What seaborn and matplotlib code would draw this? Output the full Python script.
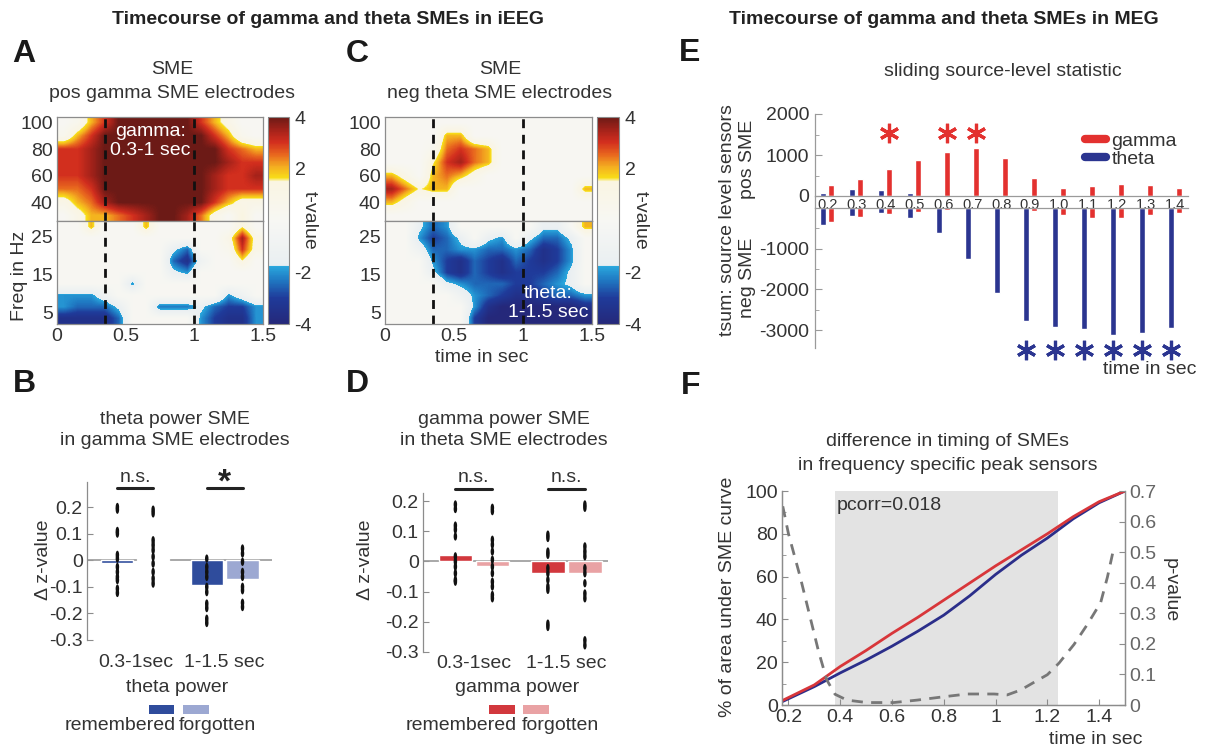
import numpy as np
import pandas as pd
import matplotlib
matplotlib.use("Agg")
import matplotlib.pyplot as plt
import matplotlib.transforms as mtransforms
import seaborn as sns
from matplotlib.colors import LinearSegmentedColormap
from matplotlib.patches import Rectangle
from matplotlib.lines import Line2D

# ---------------- data ----------------
# A / C: t-values, 0.1 s columns (0-1.5 s), rows from high to low frequency
# gamma rows: 10 Hz cells centred 100..30 Hz, low rows: 3 Hz cells centred 27.5..3.5 Hz
A_high = [
    [0, 0.5, 2, 3, 4, 4, 4, 4, 4, 4, 3, 2, 1, 0, 0],
    [0.5, 2, 3, 4, 4, 4, 4, 4, 4, 4, 4, 3, 2, 0.5, 0],
    [3, 3, 3.5, 4, 4, 4, 4, 4, 4, 4, 4, 4, 3, 2.5, 2],
    [3, 3, 3.5, 4, 4, 4, 4, 4, 4, 4, 4, 4, 3.5, 3, 3],
    [3, 3, 3.5, 4, 4, 4, 4, 4, 4, 4, 4, 3.5, 3, 3, 3.5],
    [2.5, 2.5, 3, 4, 4, 4, 4, 4, 4, 4, 4, 3.5, 3, 3, 3],
    [1, 2, 2.5, 3.5, 4, 4, 4, 4, 4, 4, 4, 3, 2, 1, 1],
    [0, 1, 2, 2, 2.5, 3, 3.5, 4, 4, 3.5, 2.5, 1, 0, 1.5, 0],
]
A_low = [
    [0, 0, 2, 0, 0, 0, 2, 0, 0, 0, 0, 0, 0, 1.5, 0],
    [0, 0, 0, 0, 0, 0, 0, 0, 0, 0, 0, 0, 1, 3.5, 1],
    [0, 0, 0, 0, 0, 0, 0, 0, -1.5, -2.5, 0, 0, 0.5, 3, 1],
    [0, 0, 0, 0, 0, 0, 0, 0, -2.5, -3.5, -1, 0, 0, 1.5, 0],
    [0, 0, 0, 0, 0, 0, 0, 0, -1.5, -2, 0, 0, 0, 0, 0],
    [0, 0, 0, 0, 0, -2, 0, 0, 0, 0, 0, 0, 0, 0, 0],
    [-2, -2, -2, -1, 0, 0, 0, 0, 0, 0, 0, 0, -2, -1, 0],
    [-2, -2.5, -2.5, -2.5, -1.5, 0, 0, -2.3, -2.3, -2.3, -1.5, -2.5, -3, -3, -2],
    [-3.5, -3.5, -3.5, -3.5, -2.5, 0, 0, 0, 0, 0, -2, -3, -3.5, -3.5, -2],
]
C_high = [
    [0, 0, 0, 0, 0, 0, 0, 0, 0, 0, 0, 0, 0, 0, 0],
    [0, 0, 0, 0, 2, 2, 0, 0, 0, 0, 0, 0, 0, 0, 0],
    [0, 0, 0, 0.5, 2.5, 3, 2.5, 2, 0, 0, 0, 0, 0, 0, 0],
    [0, 0, 0, 1.5, 3, 3.5, 2.5, 2, 0, 0, 0, 0, 0, 0, 0],
    [2, 1, 0, 2, 2.5, 2, 1, 0, 0, 0, 0, 0, 0, 0, 0],
    [3.5, 2.5, 1.5, 2, 2, 0, 0, 0, 0, 0, 0, 0, 0, 0, 2],
    [2, 1, 0, 0, 0, 0, 0, 0, 0, 0, 0, 0, 0, 0, 0],
    [0, 0, 0, 0, 0, 0, 0, 0, 0, 0, 0, 0, 0, 0, 0],
]
C_low = [
    [0, 0, -1.5, -2.5, -2, 0, 0, 0, 0, 0, 0, -1.5, -1.5, 0, 2],
    [0, 0, -2, -3, -2.5, -1.5, 0, -1.5, -2, 0, -1.5, -2.5, -2.5, -1.5, 0],
    [0, 0, -1, -2.5, -2.5, -2, -2, -2.5, -2.5, -2, -2.5, -3.5, -3, -2, 0],
    [0, 0, 0, -2, -3, -3.5, -2.5, -3, -3.5, -2.5, -3, -3.5, -3, -2, 0],
    [0, 0, 0, -1.5, -3, -3.5, -2.5, -3, -3.5, -3, -3, -3, -2.5, -1.5, 0],
    [0, 0, 0, 0, -1.5, -2, -2.5, -2.5, -2.5, -3, -3, -2.5, -2, -1.5, 0],
    [0, 0, 0, 0, 0, -1, -2, -2.5, -3, -3.5, -3.5, -3, -2.5, -2.5, -2],
    [0, 0, 0, 0, 0, 0, -2, -3.5, -4, -4, -4, -4, -4, -4, -3.5],
    [0, 0, 0, 0, 0, 0, -3, -4, -4, -4, -4, -4, -4, -4, -4],
]
time_span = (0, 1.5)
high_band = (25, 105)
low_band = (2, 29)
windows_marked = [0.35, 1.0]

# B / D
windows = ["0.3-1sec", "1-1.5 sec"]
conds = ["remembered", "forgotten"]
B_rem = [-0.01, -0.095]
B_forg = [0.003, -0.07]
B_dots = {
    ("0.3-1sec", "remembered"): [0.2, 0.19, 0.11, 0.1, 0.02, 0.006, -0.025, -0.044, -0.063, -0.075, -0.107, -0.123],
    ("0.3-1sec", "forgotten"): [0.19, 0.176, 0.075, 0.057, 0.038, 0.013, -0.013, -0.044, -0.069, -0.088],
    ("1-1.5 sec", "remembered"): [0.006, -0.025, -0.044, -0.063, -0.1, -0.12, -0.163, -0.18, -0.22, -0.236],
    ("1-1.5 sec", "forgotten"): [0.044, 0.025, -0.006, -0.044, -0.063, -0.1, -0.113, -0.16, -0.176],
}
D_rem = [0.02, -0.037]
D_forg = [-0.015, -0.037]
D_dots = {
    ("0.3-1sec", "remembered"): [0.189, 0.174, 0.119, 0.106, 0.083, 0.017, 0.0, -0.017, -0.039, -0.061, -0.067],
    ("0.3-1sec", "forgotten"): [0.178, 0.167, 0.072, 0.056, 0.033, 0.006, -0.017, -0.039, -0.067, -0.083, -0.111, -0.122],
    ("1-1.5 sec", "remembered"): [0.089, 0.078, 0.033, 0.022, -0.022, -0.039, -0.061, -0.083, -0.094, -0.206, -0.217],
    ("1-1.5 sec", "forgotten"): [0.189, 0.178, 0.05, 0.033, 0.017, -0.022, -0.039, -0.072, -0.106, -0.122, -0.261, -0.278],
}

# E
E_times = ["0.2", "0.3", "0.4", "0.5", "0.6", "0.7", "0.8", "0.9", "1.0", "1.1", "1.2", "1.3", "1.4"]
gamma_pos = [260, 405, 665, 890, 1085, 1175, 930, 437, 195, 235, 300, 260, 195]
gamma_neg = [-350, -210, -150, -100, -40, -25, -30, -80, -180, -250, -250, -165, -125]
theta_pos = [70, 170, 155, 65, 30, 15, 5, 0, 0, 0, 0, 0, 0]
theta_neg = [-415, -190, -135, -250, -625, -1265, -2085, -2765, -2935, -2985, -3125, -3060, -2960]
gamma_sig = ["0.4", "0.6", "0.7"]
theta_sig = ["0.9", "1.0", "1.1", "1.2", "1.3", "1.4"]

# F
F_time = [0.175, 0.3, 0.4, 0.5, 0.6, 0.7, 0.8, 0.9, 1.0, 1.1, 1.2, 1.3, 1.4, 1.5]
F_gamma = [2, 9.4, 18, 25.5, 33.5, 41, 49, 57, 65, 72.5, 80, 88, 95, 100]
F_theta = [1.5, 8.6, 15, 21, 27.5, 34.5, 42, 51, 61, 70, 78, 87, 94.5, 100]
p_time = [0.178, 0.2, 0.245, 0.284, 0.316, 0.348, 0.38, 0.426, 0.503, 0.606, 0.697, 0.8, 0.89,
          0.994, 1.045, 1.097, 1.148, 1.2, 1.245, 1.303, 1.355, 1.406, 1.432, 1.452]
p_value = [0.65, 0.56, 0.42, 0.286, 0.176, 0.082, 0.035, 0.016, 0.008, 0.008, 0.016, 0.027, 0.036,
           0.036, 0.033, 0.049, 0.074, 0.099, 0.137, 0.198, 0.264, 0.335, 0.418, 0.495]
sig_window = (0.378, 1.243)

# ---------------- style ----------------
sns.set_style("ticks")
plt.rcParams["font.family"] = ["Liberation Sans", "DejaVu Sans"]
plt.rcParams["axes.unicode_minus"] = False
plt.rcParams["text.color"] = "#333333"
plt.rcParams["axes.labelcolor"] = "#333333"
plt.rcParams["xtick.color"] = "#333333"
plt.rcParams["ytick.color"] = "#333333"
plt.rcParams["xtick.direction"] = "in"
plt.rcParams["ytick.direction"] = "in"

W, H = 1207, 749
FS = 14
GRAY = "#8c8c8c"
red_e, blue_e = "#e3312f", "#2b3590"

sme_cmap = LinearSegmentedColormap.from_list("sme", [
    (0.000, "#25287a"), (0.125, "#1f3b9a"), (0.210, "#1f78c2"), (0.280, "#2aa9de"),
    (0.2825, "#e9eff2"), (0.500, "#f7f7f3"), (0.690, "#faf5e2"), (0.705, "#f8df18"),
    (0.760, "#f4ae20"), (0.820, "#e8661e"), (0.880, "#d22e1e"), (0.940, "#a3221a"),
    (1.000, "#6c1a16"),
])

fig = plt.figure(figsize=(W / 100, H / 100), dpi=100)


def px(x0, y0, x1, y1):
    return [x0 / W, 1 - y1 / H, (x1 - x0) / W, (y1 - y0) / H]


def ftext(x, y, s, **kw):
    kw.setdefault("ha", "center")
    kw.setdefault("va", "center")
    kw.setdefault("fontsize", FS)
    return fig.text(x / W, 1 - y / H, s, **kw)


def style_axis(ax, color=GRAY):
    for sp in ax.spines.values():
        sp.set_color(color)
        sp.set_linewidth(0.9)


# ---------------- A / C heatmaps ----------------
def heat_panel(x0, x1, high, low, cbar):
    ax_hi = fig.add_axes(px(x0, 117, x1, 221))
    ax_lo = fig.add_axes(px(x0, 221, x1, 324))
    for ax, grid, band, lim, ticks in ((ax_hi, high, high_band, (26, 104), [40, 60, 80, 100]),
                                       (ax_lo, low, low_band, (2, 29), [5, 15, 25])):
        im = ax.imshow(np.array(grid), extent=(time_span[0], time_span[1], band[0], band[1]),
                       cmap=sme_cmap, vmin=-4, vmax=4, aspect="auto",
                       interpolation="bilinear", interpolation_stage="data")
        ax.set_xlim(*time_span)
        ax.set_ylim(*lim)
        ax.set_yticks(ticks)
        for t in windows_marked:
            ax.axvline(t, color="#111111", lw=2, ls=(0, (3.2, 2.4)))
        ax.tick_params(length=0, labelsize=FS, pad=3)
        style_axis(ax)
    ax_hi.set_xticks([])
    ax_lo.set_xticks([0, 0.5, 1, 1.5])
    ax_lo.set_xticklabels(["0", "0.5", "1", "1.5"])
    ax_lo.tick_params(axis="x", pad=3)

    cax = fig.add_axes(px(cbar[0], 117, cbar[1], 324))
    cb = fig.colorbar(im, cax=cax, ticks=[-4, -2, 2, 4])
    cb.outline.set_edgecolor(GRAY)
    cb.outline.set_linewidth(0.8)
    cax.tick_params(length=0, labelsize=FS, pad=4)
    cax.text(1.95, 0.5, "t-value", rotation=270, ha="center", va="center",
             fontsize=FS, transform=cax.transAxes)
    return ax_hi, ax_lo


axA_hi, axA_lo = heat_panel(57, 263, A_high, A_low, (268, 289))
axA_hi.text(0.68, 86, "gamma:\n0.3-1 sec", color="white", fontsize=FS, ha="center", va="center",
            linespacing=1.15)
ftext(20, 276, "Freq in Hz", rotation=90)

axC_hi, axC_lo = heat_panel(385, 592, C_high, C_low, (597, 619))
axC_lo.text(1.18, 7.5, "theta:\n1-1.5 sec", color="white", fontsize=FS, ha="center", va="center",
            linespacing=1.15)
ftext(482, 358, "time in sec")

ftext(172, 70, "SME")
ftext(172, 93, "pos gamma SME electrodes")
ftext(500, 70, "SME")
ftext(500, 93, "neg theta SME electrodes")


# ---------------- B / D bar plots ----------------
def sme_bars(rect, rem, forg, dots, colors, ylim, xlim, ticklab_pad, sig_labels, sig_y):
    ax = fig.add_axes(px(*rect))
    bars = pd.DataFrame({"window": windows * 2,
                         "cond": [conds[0]] * 2 + [conds[1]] * 2,
                         "value": rem + forg})
    sns.barplot(data=bars, x="window", y="value", hue="cond", order=windows, hue_order=conds,
                palette=colors, width=0.8, gap=0.1, saturation=1, errorbar=None,
                legend=False, ax=ax, zorder=2)
    pts = pd.DataFrame([(w, c, v) for (w, c), vals in dots.items() for v in vals],
                       columns=["window", "cond", "value"])
    th = np.linspace(0, 2 * np.pi, 40)
    ellipse = list(zip(0.42 * np.cos(th), np.sin(th)))
    sns.stripplot(data=pts, x="window", y="value", hue="cond", order=windows, hue_order=conds,
                  palette=["#111111", "#111111"], dodge=True, jitter=False, size=6,
                  marker=ellipse, linewidth=0, legend=False, ax=ax, zorder=3)
    ax.axhline(0, color="#9a9a9a", lw=1.2, zorder=1)
    ax.set_ylim(*ylim)
    ax.set_xlim(*xlim)
    ax.set_yticks([-0.3, -0.2, -0.1, 0, 0.1, 0.2])
    ax.set_yticklabels(["-0.3", "-0.2", "-0.1", "0", "0.1", "0.2"])
    ax.set_xlabel("")
    ax.set_ylabel("")
    ax.tick_params(axis="y", length=4, labelsize=FS, pad=3, color=GRAY)
    ax.tick_params(axis="x", length=0, labelsize=FS, pad=ticklab_pad)
    for s in ("top", "right", "bottom"):
        ax.spines[s].set_visible(False)
    style_axis(ax)
    ax.patch.set_alpha(0)
    tr = mtransforms.blended_transform_factory(ax.transData, fig.transFigure)
    for i, lab in enumerate(sig_labels):
        ax.plot([i - 0.2, i + 0.2], [1 - sig_y / H] * 2, color="#222222", lw=2.2,
                transform=tr, clip_on=False)
        if lab == "*":
            ax.text(i, 1 - (sig_y + 4) / H, "*", fontsize=24, fontweight="bold", ha="center",
                    va="baseline", transform=tr, color="#222222")
        else:
            ax.text(i, 1 - (sig_y - 11) / H, lab, fontsize=FS, ha="center", va="center",
                    transform=tr)
    return ax


blue_dark, blue_light = "#2f4c9c", "#9ca8d2"
red_dark, red_light = "#d2383d", "#e9a2a4"

axB = sme_bars((87, 482, 272, 640), B_rem, B_forg, B_dots, [blue_dark, blue_light],
               (-0.3, 0.294), (-0.54, 1.53), 10, ["n.s.", "*"], 488)
axD = sme_bars((423, 493, 608, 652), D_rem, D_forg, D_dots, [red_dark, red_light],
               (-0.3, 0.227), (-0.55, 1.45), 2, ["n.s.", "n.s."], 489)

ftext(43, 560, "Δ z-value", rotation=90)
ftext(365, 560, "Δ z-value", rotation=90)
ftext(175, 419, "theta power SME")
ftext(175, 441, "in gamma SME electrodes")
ftext(504, 419, "gamma power SME")
ftext(504, 441, "in theta SME electrodes")
ftext(177, 687, "theta power")
ftext(517, 688, "gamma power")
for (x0, x1), col in (((149, 174), blue_dark), ((183, 209), blue_light),
                      ((489, 515), red_dark), ((523, 549), red_light)):
    fig.add_artist(Rectangle((x0 / W, 1 - 714 / H), (x1 - x0) / W, 9 / H,
                             transform=fig.transFigure, color=col, lw=0))
ftext(120, 726, "remembered")
ftext(217, 726, "forgotten")
ftext(461, 726, "remembered")
ftext(560, 726, "forgotten")

# ---------------- E sliding statistic ----------------
axE_pos = fig.add_axes(px(815, 114, 1188, 196))
axE_neg = fig.add_axes(px(815, 208, 1188, 348))
hue_order = ["theta", "gamma"]
for ax, th_vals, ga_vals in ((axE_pos, theta_pos, gamma_pos), (axE_neg, theta_neg, gamma_neg)):
    df = pd.DataFrame({"time": E_times * 2,
                       "band": ["theta"] * len(E_times) + ["gamma"] * len(E_times),
                       "tsum": th_vals + ga_vals})
    sns.barplot(data=df, x="time", y="tsum", hue="band", hue_order=hue_order, order=E_times,
                palette=[blue_e, red_e], width=0.58, gap=0.3, saturation=1, errorbar=None,
                legend=False, ax=ax)
    ax.set_xlim(-0.42, 12.45)
    ax.set_xlabel("")
    ax.set_ylabel("")
    ax.patch.set_alpha(0)
    style_axis(ax, "#9a9a9a")
    ax.spines["right"].set_visible(False)
    ax.tick_params(axis="y", which="both", labelsize=FS, color="#9a9a9a", pad=4)
    ax.tick_params(axis="y", which="major", length=5)
    ax.tick_params(axis="y", which="minor", length=3)

axE_pos.set_ylim(0, 2000)
axE_pos.set_yticks([0, 1000, 2000])
axE_pos.set_yticks([500, 1500], minor=True)
axE_pos.spines["top"].set_visible(False)
axE_pos.tick_params(axis="x", length=0, labelsize=10.5, pad=1.5)

axE_neg.set_ylim(-3440, 0)
axE_neg.set_yticks([-3000, -2000, -1000])
axE_neg.set_yticks([-3000, -2500, -2000, -1500, -1000, -500], minor=True)
axE_neg.spines["bottom"].set_visible(False)
axE_neg.set_xticks([])
fig.add_artist(Line2D([815 / W] * 2, [1 - 208 / H, 1 - 196 / H], transform=fig.transFigure,
                      color="#9a9a9a", lw=0.9))

# significance asterisks, drawn as 6-armed markers above / below the bars
off = 0.145
star = dict(marker=(6, 2, 0), markersize=14, markeredgewidth=2.3, linestyle="none", clip_on=False)
tr_pos = mtransforms.blended_transform_factory(axE_pos.transData, fig.transFigure)
axE_pos.plot([E_times.index(t) + off for t in gamma_sig], [1 - 133 / H] * len(gamma_sig),
             color=red_e, transform=tr_pos, **star)
tr_neg = mtransforms.blended_transform_factory(axE_neg.transData, fig.transFigure)
axE_neg.plot([E_times.index(t) - off for t in theta_sig], [1 - 350 / H] * len(theta_sig),
             color=blue_e, transform=tr_neg, **star)

axE_pos.legend(handles=[Line2D([0], [0], color=red_e, lw=6), Line2D([0], [0], color=blue_e, lw=6)],
               labels=["gamma", "theta"], loc="upper left", bbox_to_anchor=(1085 / W, 1 - 132 / H),
               bbox_transform=fig.transFigure, frameon=False, fontsize=FS, handlelength=1.1,
               handletextpad=0.25, labelspacing=0.05, borderpad=0, borderaxespad=0)

ftext(1003, 71, "sliding source-level statistic")
ftext(727, 220, "tsum: source level sensors", rotation=90)
ftext(747, 159, "pos SME", rotation=90)
ftext(747, 278, "neg SME", rotation=90)
ftext(1150, 369, "time in sec")

# ---------------- F timing difference ----------------
axF = fig.add_axes(px(782, 491, 1125, 705))
axF.axvspan(*sig_window, color="#e3e3e3", lw=0, zorder=0)
sns.lineplot(x=F_time, y=F_gamma, color="#d8363a", lw=2, ax=axF, zorder=3)
sns.lineplot(x=F_time, y=F_theta, color="#2b2e8a", lw=2, ax=axF, zorder=2)
axF.set_xlim(0.175, 1.5)
axF.set_ylim(0, 100)
axF.set_xticks([0.2, 0.4, 0.6, 0.8, 1.0, 1.2, 1.4])
axF.set_xticklabels(["0.2", "0.4", "0.6", "0.8", "1", "1.2", "1.4"])
axF.set_yticks([0, 20, 40, 60, 80, 100])
axF.set_yticks(np.arange(10, 100, 20), minor=True)
axF.tick_params(axis="both", which="major", length=4, labelsize=FS, color=GRAY, pad=3)
axF.tick_params(axis="y", which="minor", length=3, color=GRAY)
axF.spines["top"].set_visible(False)
style_axis(axF)
axF.text(0.387, 93, "pcorr=0.018", fontsize=FS, ha="left", va="center")

axP = axF.twinx()
sns.lineplot(x=p_time, y=p_value, color="#777777", lw=2, linestyle=(0, (4, 3)), ax=axP)
axP.set_ylim(0, 0.7)
axP.set_yticks([0, 0.1, 0.2, 0.3, 0.4, 0.5, 0.6, 0.7])
axP.set_yticklabels(["0", "0.1", "0.2", "0.3", "0.4", "0.5", "0.6", "0.7"])
axP.tick_params(axis="y", length=4, labelsize=FS, labelcolor="#666666", color=GRAY, pad=3)
axP.spines["top"].set_visible(False)
style_axis(axP)

ftext(948, 442, "difference in timing of SMEs")
ftext(948, 465, "in frequency specific peak sensors")
ftext(728, 597, "% of area under SME curve", rotation=90)
ftext(1170, 590, "p-value", rotation=270)
ftext(1096, 740, "time in sec")

# ---------------- headings and letters ----------------
ftext(328, 20, "Timecourse of gamma and theta SMEs in iEEG", fontweight="bold", color="#222222")
ftext(944, 20, "Timecourse of gamma and theta SMEs in MEG", fontweight="bold", color="#222222")
for letter, x, y in (("A", 24, 54), ("C", 357, 54), ("B", 24, 384), ("D", 357, 384),
                     ("E", 690, 53), ("F", 691, 386)):
    ftext(x, y, letter, fontsize=23, fontweight="bold", color="#1a1a1a")

fig.savefig("out.png", dpi=100)
